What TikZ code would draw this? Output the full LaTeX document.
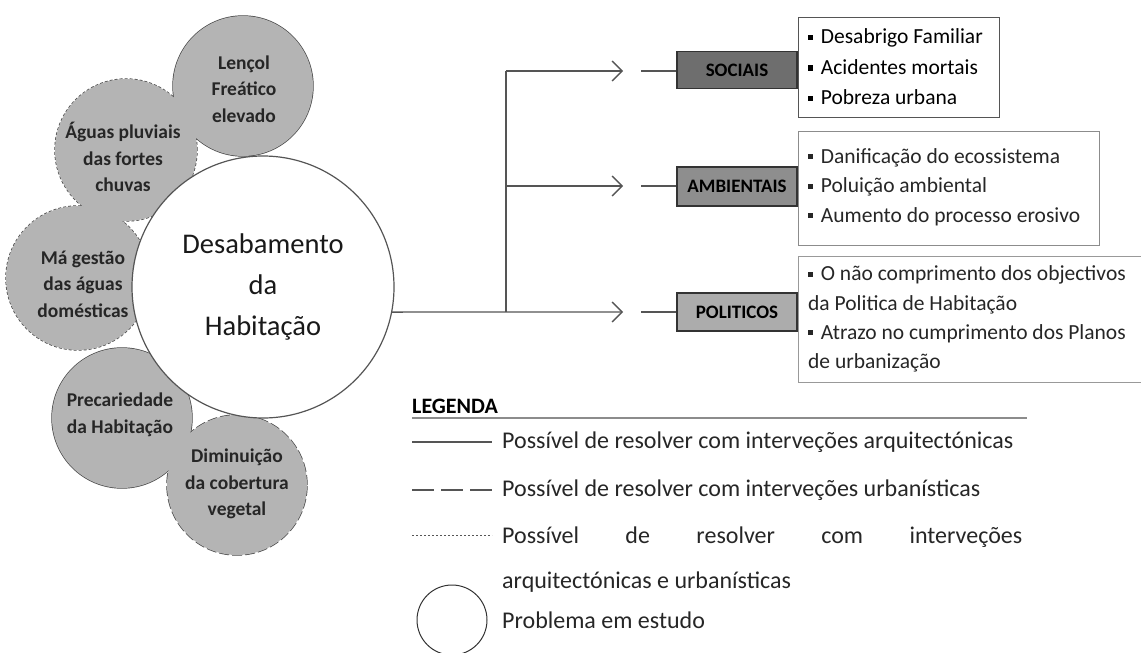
\documentclass[tikz,border=0pt]{standalone}
\usepackage{fontspec}
\setmainfont{Carlito}
\usetikzlibrary{arrows.meta}
\definecolor{cfillc}{RGB}{180,180,180}
\definecolor{socc}{RGB}{110,110,110}
\definecolor{ambc}{RGB}{142,142,142}
\definecolor{polc}{RGB}{172,172,172}
\definecolor{linec}{RGB}{85,85,85}
\definecolor{edgec}{RGB}{70,70,70}
\newcommand\sqbul{\rule[0.18em]{0.24em}{0.24em}\hspace{0.35em}}
\begin{document}
\begin{tikzpicture}[x=1pt,y=-1pt,
  cborder/.style={draw=edgec, line width=1.4pt},
  cfill/.style={circle, fill=cfillc, inner sep=0pt},
  ctext/.style={font=\fontsize{19.5}{26.5}\selectfont\bfseries, align=center, text=black!85, inner sep=0pt},
  conn/.style={draw=linec, line width=1.3pt},
  chev/.style={-{Straight Barb[length=10pt,width=20pt]}},
  catbox/.style={draw=black!80, line width=1.2pt, minimum width=120pt, inner sep=0pt,
    font=\fontsize{19}{20}\selectfont\bfseries, text=black},
  listbox/.style={line width=1.2pt, anchor=north west, inner sep=0pt},
  listtext/.style={align=left, inner sep=0pt, anchor=west, text=black!85},
  legtext/.style={font=\fontsize{24}{45}\selectfont, anchor=west, inner sep=0pt, text=black!85, align=left},
  legline/.style={draw=linec, line width=1.2pt}
]
\useasboundingbox (0,0) rectangle (1141,653);

% small circle outlines
\draw[cborder] (243,86) circle (70pt);
\draw[cborder, dash pattern=on 3pt off 2pt] (126,150) circle (71pt);
\draw[cborder, dash pattern=on 3pt off 2pt] (78,278) circle (72pt);
\draw[cborder] (122,418) circle (70pt);
\draw[cborder, dash pattern=on 10pt off 3pt] (237,485) circle (70pt);

% small circle fills
\node[cfill, minimum size=140pt] (cL) at (243,86) {};
\node[cfill, minimum size=142pt] (cA) at (126,150) {};
\node[cfill, minimum size=144pt] (cM) at (78,278) {};
\node[cfill, minimum size=140pt] (cP) at (122,418) {};
\node[cfill, minimum size=140pt] (cD) at (237,485) {};

% main problem
\node[circle, draw=linec, line width=1.2pt, fill=white, minimum size=262pt, inner sep=0pt,
  font=\fontsize{28.5}{41}\selectfont, align=center, text=black!90] (main) at (263,287)
  {Desabamento\\da\\Habitação};

% small circle texts
\node[ctext] (tL) at (244,89) {Lençol\\Freático\\elevado};
\node[ctext] (tA) at (123,157) {Águas pluviais\\das fortes\\chuvas};
\node[ctext] (tM) at (83,284) {Má gestão\\das águas\\domésticas};
\node[ctext] (tP) at (120,415) {Precariedade\\da Habitação};
\node[ctext] (tD) at (237,484) {Diminuição\\da cobertura\\vegetal};

% category boxes
\node[catbox, fill=socc, minimum height=37pt] (soc) at (737,70) {SOCIAIS};
\node[catbox, fill=ambc, minimum height=39pt] (amb) at (737,186.5) {AMBIENTAIS};
\node[catbox, fill=polc, minimum height=38pt] (pol) at (737,312) {POLITICOS};

% connectors
\coordinate (br3) at (506,312);
\coordinate (br2) at (506,186);
\coordinate (br1) at (506,71);
\coordinate (a1) at (623,71);
\coordinate (a2) at (623,186);
\coordinate (a3) at (623,312);
\coordinate (g1) at (641,71);
\coordinate (g2) at (641,186);
\coordinate (g3) at (641,312);
\draw[conn, chev] (main.-11) -- (br3) -- (a3);
\draw[conn] (br3) -- (br1);
\draw[conn, chev] (br1) -- (a1);
\draw[conn, chev] (br2) -- (a2);
\draw[conn] (g1) -- (soc.west |- g1);
\draw[conn] (g2) -- (amb.west |- g2);
\draw[conn] (g3) -- (pol.west |- g3);

% consequence lists
\node[listbox, draw=linec, minimum width=201pt, minimum height=100pt] (l1) at (798,17) {};
\node[listbox, draw=black!45, minimum width=301pt, minimum height=114pt] (l2) at (798,131) {};
\node[listbox, draw=black!40, minimum width=360pt, minimum height=126pt] (l3) at (798,256) {};
\node[listtext, font=\fontsize{21.5}{30.5}\selectfont, text=black] (t1) at (808,67)
  {\sqbul Desabrigo Familiar\\\sqbul Acidentes mortais\\\sqbul Pobreza urbana};
\node[listtext, font=\fontsize{21.5}{29.5}\selectfont] (t2) at (808,187)
  {\sqbul Danificação do ecossistema\\\sqbul Poluição ambiental\\\sqbul Aumento do processo erosivo};
\node[listtext, font=\fontsize{21.5}{29.3}\selectfont] (t3) at (808,319)
  {\sqbul O não comprimento dos objectivos\\da Politica de Habitação\\\sqbul Atrazo no cumprimento dos Planos\\de urbanização};

% legend
\node[font=\fontsize{22}{24}\selectfont\bfseries, anchor=base west, inner sep=0pt] (leg) at (412,413) {LEGENDA};
\coordinate (u1) at (412,418);
\coordinate (u2) at (1027,418);
\draw[draw=black!45, line width=1.2pt] (u1) -- (u2);

\node[legtext] (lt1) at (502,442) {Possível de resolver com interveções arquitectónicas};
\node[legtext] (lt2) at (502,490) {Possível de resolver com interveções urbanísticas};
\node[legtext, anchor=north west] (lt3) at (502,527)
  {\makebox[520pt][s]{Possível de resolver com interveções}\\arquitectónicas e urbanísticas};
\node[circle, draw=black!80, line width=1pt, minimum size=70pt, inner sep=0pt] (legc) at (452,620) {};
\node[legtext] (lt4) at (502,620) {Problema em estudo};

\coordinate (ls1) at (412,442);
\coordinate (le1) at (492,442);
\coordinate (ls2) at (412,490);
\coordinate (le2) at (492,490);
\coordinate (ls3) at (412,535);
\coordinate (le3) at (492,535);
\draw[legline] (ls1) -- (le1);
\draw[legline, dash pattern=on 22pt off 7pt] (ls2) -- (le2);
\draw[legline, line width=1pt, dash pattern=on 2pt off 2pt] (ls3) -- (le3);
\end{tikzpicture}
\end{document}
